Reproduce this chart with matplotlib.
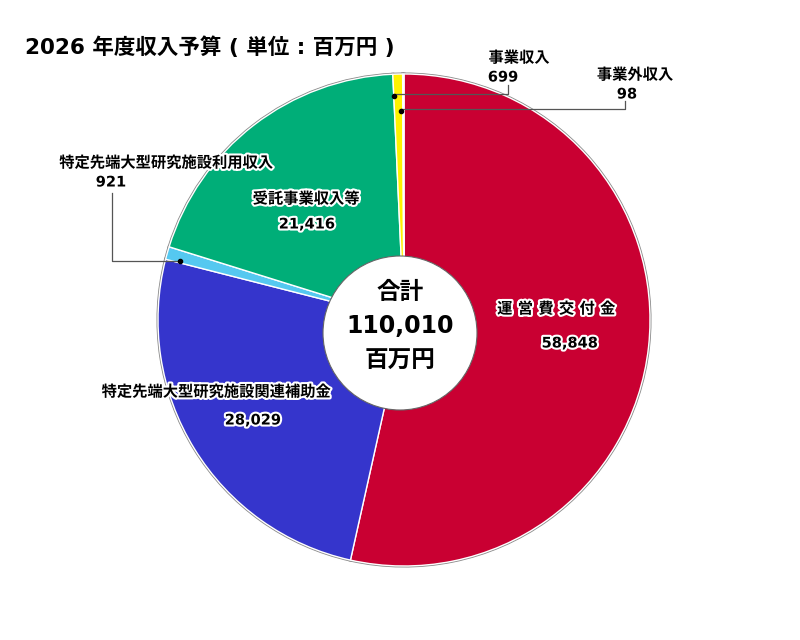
import matplotlib
matplotlib.use("Agg")
import matplotlib.pyplot as plt
import matplotlib.patheffects as pe
from matplotlib.patches import Circle

# DejaVu first for the wide digits, CJK glyphs fall back to Noto
plt.rcParams['font.family'] = ['DejaVu Sans', 'Noto Sans CJK JP']

# data (clockwise from 12 o'clock)
labels = ['運営費交付金', '特定先端大型研究施設関連補助金', '特定先端大型研究施設利用収入',
          '受託事業収入等', '事業収入', '事業外収入']
values = [58848, 28029, 921, 21416, 699, 98]
value_text = ['58,848', '28,029', '921', '21,416', '699', '98']
colors = ['#C90032', '#3535CC', '#55C8F0', '#00AE78', '#FFF200', '#A8B0C0']
total_text = '110,010'
title = '2026 年度収入予算 ( 単位 : 百万円 )'

W, H = 800, 640
fig = plt.figure(figsize=(8, 6.4), dpi=100)
ax = fig.add_axes([0, 0, 1, 1])

cx, cy, r = 404, H - 320, 246

# gray outline underneath, white separators on top
ax.pie(values, colors=colors, startangle=90, counterclock=False,
       center=(cx, cy), radius=r, frame=True,
       wedgeprops=dict(edgecolor='#8a8a8a', linewidth=2.2))
ax.pie(values, colors=colors, startangle=90, counterclock=False,
       center=(cx, cy), radius=r, frame=True,
       wedgeprops=dict(edgecolor='white', linewidth=1.0))
ax.set_xlim(0, W)
ax.set_ylim(0, H)
ax.set_aspect('equal')
ax.axis('off')

ax.add_patch(Circle((400, H - 333), 77, facecolor='white', edgecolor='#666666',
                    linewidth=0.8, zorder=5))

outline = [pe.withStroke(linewidth=3, foreground='white')]


def put(x, y, s, size=11, **kw):
    ax.text(x, H - y, s, ha='center', va='center', fontsize=size,
            fontweight='bold', color='black', path_effects=outline, zorder=10, **kw)


# in-slice labels
put(556, 309, '運 営 費 交 付 金')
put(570, 343, value_text[0], size=10.5)
put(216, 392, labels[1])
put(253, 420, value_text[1], size=10.5)
put(306, 199, labels[3])
put(307, 224, value_text[3], size=10.5)

# outside labels
put(166, 163, labels[2])
put(111, 182, value_text[2], size=10.5)
put(519, 58, labels[4])
put(503, 77, value_text[4], size=10.5)
put(635, 75, labels[5])
put(627, 94, value_text[5], size=10.5)

# leader lines
lc = '#555555'
ax.plot([112, 112, 180], [H - 193, H - 261, H - 261], color=lc, lw=0.9, zorder=8)
ax.plot([180], [H - 261], 'o', color='black', ms=3, zorder=9)
ax.plot([508, 508, 394], [H - 85, H - 94, H - 94], color=lc, lw=0.9, zorder=8)
ax.plot([394], [H - 96], 'o', color='black', ms=3, zorder=9)
ax.plot([625, 625, 401], [H - 101, H - 109, H - 109], color=lc, lw=0.9, zorder=8)
ax.plot([401], [H - 111], 'o', color='black', ms=3, zorder=9)

# center text
for y, s in [(292, '合計'), (326, total_text), (361, '百万円')]:
    ax.text(400, H - y, s, ha='center', va='center', fontsize=17,
            fontweight='bold', color='black', zorder=10)

ax.text(25, H - 47, title, ha='left', va='center', fontsize=15.5,
        fontweight='bold', color='black')

fig.savefig('out.png', dpi=100)
